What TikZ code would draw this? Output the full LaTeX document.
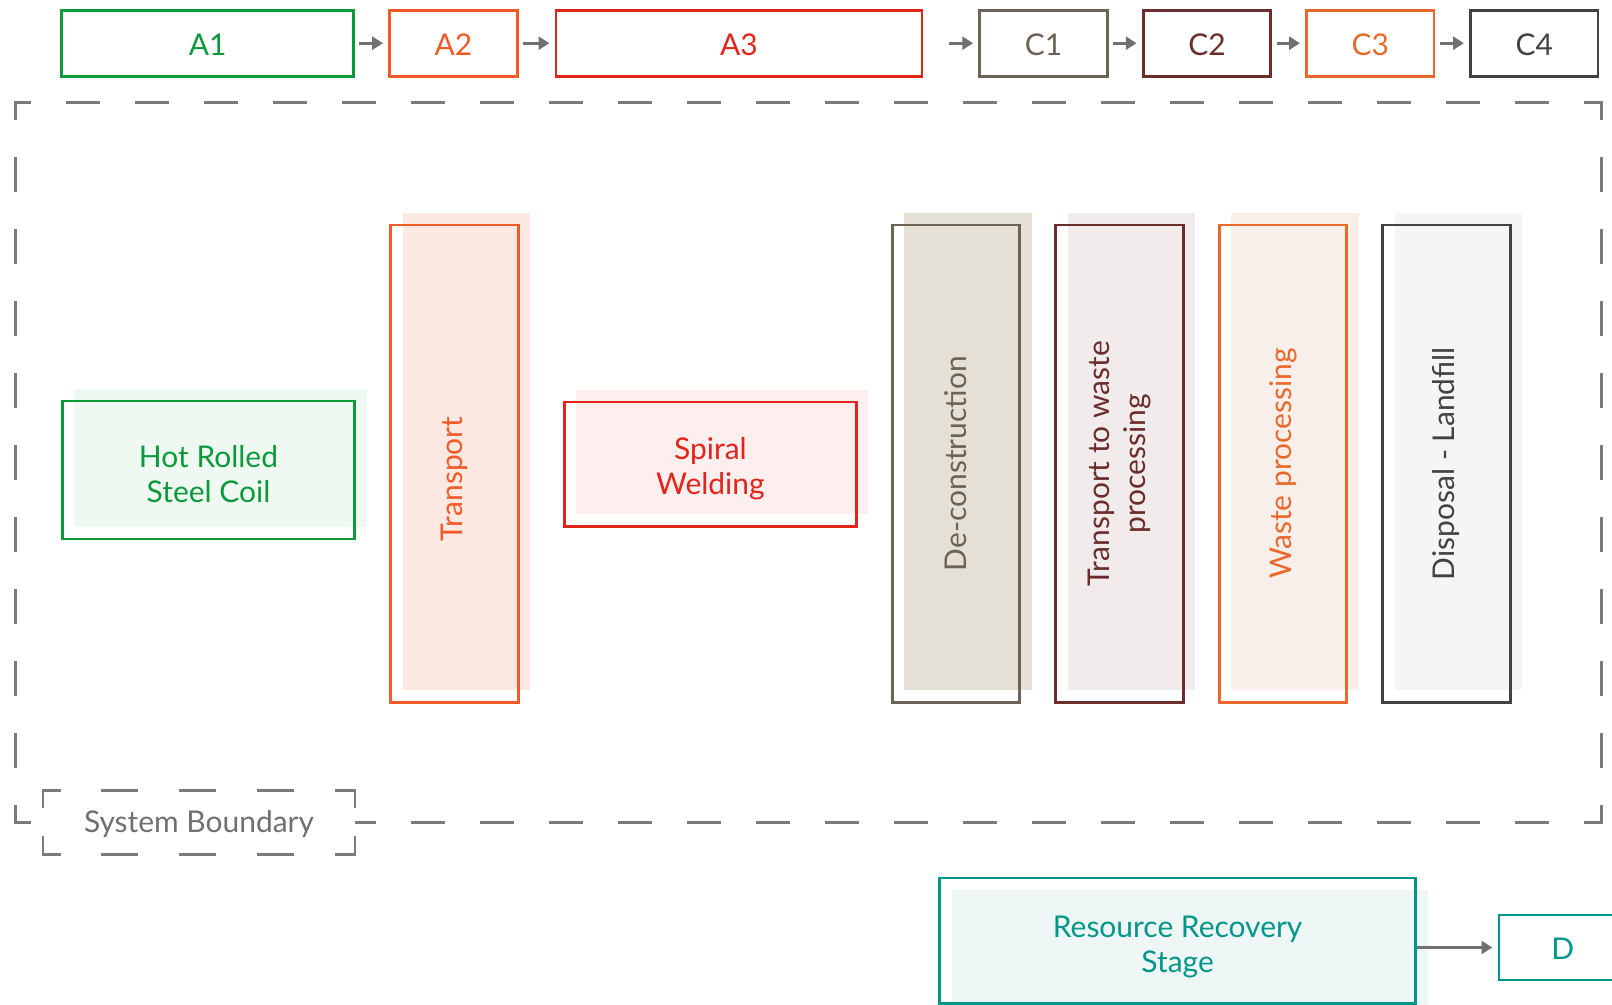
\documentclass[tikz,border=0pt]{standalone}
\usepackage{fontspec}
\setmainfont{Lato}
\usetikzlibrary{arrows.meta,positioning}

% stage colours
\definecolor{cgreen}{HTML}{0A9A3C}
\definecolor{corange}{HTML}{F15A29}
\definecolor{cred}{HTML}{E3241B}
\definecolor{ctaupe}{HTML}{6B6355}
\definecolor{cmaroon}{HTML}{6B2C2C}
\definecolor{camber}{HTML}{E8692A}
\definecolor{cdark}{HTML}{424242}
\definecolor{cteal}{HTML}{00968A}
\definecolor{cflow}{HTML}{707070}
\definecolor{cline}{HTML}{7A7A7A}
% soft fills
\definecolor{greenfill}{HTML}{EFF9F2}
\definecolor{orangefill}{HTML}{FDE9E2}
\definecolor{redfill}{HTML}{FDEFEE}
\definecolor{taupefill}{HTML}{E5E0D6}
\definecolor{maroonfill}{HTML}{F2EBEB}
\definecolor{amberfill}{HTML}{F8EEEA}
\definecolor{darkfill}{HTML}{F5F5F5}
\definecolor{tealfill}{HTML}{EEF7F5}

\begin{document}
\begin{tikzpicture}[
    x=0.025cm, y=-0.025cm,
    every node/.style={font=\fontsize{21.3}{25}\selectfont, inner sep=0pt, align=center},
    lifted/.style={execute at begin node=\rule{0pt}{#1}},
    lifted/.default=17.3pt,
    stage/.style={lifted, draw=#1, text=#1, line width=1.9pt, minimum width=3.19cm, minimum height=1.65cm},
    phase/.style 2 args={lifted=46.6pt, draw=#1, text=#1, line width=1.9pt, preaction={fill=#2, transform canvas={shift={(0.3cm,0.3cm)}}}},
    phase down/.style 2 args={lifted=49.5pt, draw=#1, text=#1, line width=1.9pt, preaction={fill=#2, transform canvas={shift={(0.3cm,-0.3cm)}}}},
    tall/.style={minimum width=3.19cm, minimum height=11.925cm},
    vtext/.style={text=#1, rotate=90},
    flow/.style={draw=cflow, line width=2.1pt, -{Triangle[length=0.27cm,width=0.32cm]}, shorten <=0.11cm, shorten >=0.13cm},
    bound/.style={draw=cline, line width=2.1pt}
]
    \useasboundingbox (0,0) rectangle (1612,1005);

    % System boundary, one side at a time so the corners close
    \draw [bound, dash pattern=on 24.2pt off 24.87pt, dash phase=12.1pt] (13.9,102.8) -- (1603.2,102.8);
    \draw [bound, dash pattern=on 24.2pt off 24.87pt, dash phase=12.1pt] (13.9,822.4) -- (1603.2,822.4);
    \draw [bound, dash pattern=on 24.9pt off 26.29pt, dash phase=12.45pt] (15.4,102.8) -- (15.4,822.4);
    \draw [bound, dash pattern=on 24.9pt off 26.29pt, dash phase=12.45pt] (1601.7,102.8) -- (1601.7,822.4);

    % Boundary tag
    \node [lifted, fill=white, minimum width=7.78cm, minimum height=1.6cm, text=cflow] (sb) at (199,822.5) {System Boundary};
    \draw [bound, line width=1.9pt, dash pattern=on 26.3pt off 29pt, dash phase=13.15pt] ([xshift=-0.7pt]sb.north west) -- ([xshift=0.7pt]sb.north east);
    \draw [bound, line width=1.9pt, dash pattern=on 26.3pt off 29pt, dash phase=13.15pt] ([xshift=-0.7pt]sb.south west) -- ([xshift=0.7pt]sb.south east);
    \draw [bound, line width=1.9pt, dash pattern=on 25.6pt off 19.9pt, dash phase=12.8pt] (sb.north west) -- (sb.south west);
    \draw [bound, line width=1.9pt, dash pattern=on 25.6pt off 19.9pt, dash phase=12.8pt] (sb.north east) -- (sb.south east);

    % Stage codes
    \node [stage=cgreen, minimum width=7.3cm] (a1) at (207.7,43.2) {A1};
    \node [stage=corange] (a2) at (453.4,43.2) {A2};
    \node [stage=cred, minimum width=9.15cm] (a3) at (739,43.2) {A3};
    \node [stage=ctaupe] (c1) at (1043.5,43.2) {C1};
    \node [stage=cmaroon] (c2) at (1207,43.2) {C2};
    \node [stage=camber] (c3) at (1370.3,43.2) {C3};
    \node [stage=cdark] (c4) at (1534.3,43.2) {C4};

    % Product stage
    \node [phase={cgreen}{greenfill}, minimum width=7.3cm, minimum height=3.45cm] (coil) at (208.5,470) {Hot Rolled\\Steel Coil};
    \node [phase={corange}{orangefill}, tall] (trans) at (454.4,463.6) {};
    \node [vtext=corange] (transtxt) at (454.4,479) {Transport};
    \node [phase={cred}{redfill}, minimum width=7.3cm, minimum height=3.11cm] (weld) at (710.4,464.2) {Spiral\\Welding};

    % End of life stage
    \node [phase={ctaupe}{taupefill}, tall] (decon) at (956,463.6) {};
    \node [vtext=ctaupe] (decontxt) at (decon) {De-construction};
    \node [phase={cmaroon}{maroonfill}, tall] (haul) at (1119.5,463.6) {};
    \node [vtext=cmaroon] (haultxt) at (haul) {Transport to waste\\processing};
    \node [phase={camber}{amberfill}, tall] (waste) at (1283,463.6) {};
    \node [vtext=camber] (wastetxt) at (waste) {Waste processing};
    \node [phase={cdark}{darkfill}, tall] (landfill) at (1446.4,463.6) {};
    \node [vtext=cdark] (landfilltxt) at (landfill) {Disposal - Landfill};

    % Recovery
    \node [phase down={cteal}{tealfill}, minimum width=11.9cm, minimum height=3.135cm] (rrs) at (1177.6,940.7) {Resource Recovery\\Stage};
    \node [stage=cteal, minimum height=1.625cm] (d) at (1562.7,947.5) {D};

    % Arrows
    \draw [flow] (a1) -- (a2);
    \draw [flow] (a2) -- (a3);
    \draw [flow, shorten <=0.65cm] (a3) -- (c1);
    \draw [flow] (c1) -- (c2);
    \draw [flow] (c2) -- (c3);
    \draw [flow] (c3) -- (c4);
    \draw [flow, shorten <=0pt] (rrs.east |- d) -- (d);
\end{tikzpicture}
\end{document}
